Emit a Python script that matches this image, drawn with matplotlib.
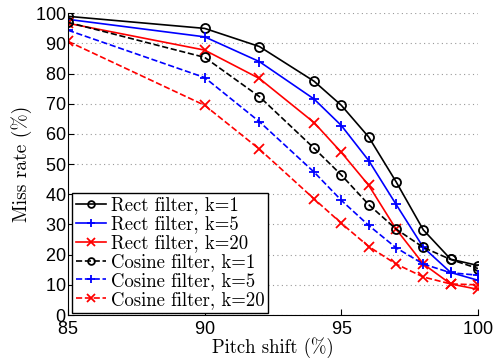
import matplotlib
matplotlib.use("Agg")
import matplotlib.pyplot as plt

pitch = [85, 90, 92, 94, 95, 96, 97, 98, 99, 100]

rect_k1 = [99.0, 95.0, 89.0, 77.5, 69.5, 59.0, 44.2, 28.2, 18.5, 16.4]
rect_k5 = [98.0, 92.2, 84.0, 71.6, 62.8, 51.2, 36.7, 22.4, 14.1, 11.5]
rect_k20 = [96.7, 87.8, 78.4, 63.8, 53.9, 43.0, 28.5, 16.9, 10.3, 8.5]
cos_k1 = [97.0, 85.4, 72.4, 55.3, 46.4, 36.6, 28.5, 22.4, 18.4, 15.4]
cos_k5 = [94.4, 78.7, 64.1, 47.4, 38.0, 29.7, 22.3, 16.9, 14.0, 13.2]
cos_k20 = [90.7, 69.5, 55.0, 38.5, 30.4, 22.7, 16.9, 12.6, 10.3, 10.0]

labels = ["Rect filter, k=1", "Rect filter, k=5", "Rect filter, k=20",
          "Cosine filter, k=1", "Cosine filter, k=5", "Cosine filter, k=20"]

series = [rect_k1, rect_k5, rect_k20, cos_k1, cos_k5, cos_k20]
colors = ["black", "blue", "red", "black", "blue", "red"]
markers = ["o", "+", "x", "o", "+", "x"]
styles = ["-", "-", "-", "--", "--", "--"]

plt.rcParams["axes.formatter.use_mathtext"] = True

fig = plt.figure(figsize=(4.95, 3.58), dpi=100)
ax = fig.add_axes([0.1374, 0.1201, 0.8283, 0.8427])

for ys, c, m, ls, lab in zip(series, colors, markers, styles, labels):
    ax.plot(pitch, ys, color=c, marker=m, linestyle=ls, linewidth=1.2,
            markersize=7 if m != "o" else 6.5, markerfacecolor="none",
            markeredgewidth=1.3, label=lab)

ax.set_xlim(85, 100)
ax.set_ylim(0, 100)
ax.set_xticks([85, 90, 95, 100])
ax.set_yticks(range(0, 101, 10))
ax.yaxis.grid(True, linestyle=(0, (1, 3)), color="#999999", linewidth=0.8)
ax.spines["top"].set_visible(False)
ax.spines["right"].set_visible(False)
ax.tick_params(direction="in", length=4, labelsize=13)
ax.tick_params(axis="x", pad=4)
ax.tick_params(axis="y", pad=1.5)
for t in ax.get_xticklabels() + ax.get_yticklabels():
    t.set_family("Liberation Sans")

ax.set_xlabel("Pitch shift (%)", family="cmr10", fontsize=13.5, labelpad=0)
ax.set_ylabel("Miss rate (%)", family="cmr10", fontsize=14, labelpad=2)

leg = ax.legend(loc="lower left", bbox_to_anchor=(0.01, 0.008), borderaxespad=0,
                prop={"family": "cmr10", "size": 13.5}, fancybox=False,
                framealpha=1, edgecolor="black", labelspacing=0.05,
                handlelength=1.6, handletextpad=0.25, borderpad=0.2,
                markerscale=0.75)
leg.get_frame().set_linewidth(1.0)

fig.savefig("out.png", dpi=100)
